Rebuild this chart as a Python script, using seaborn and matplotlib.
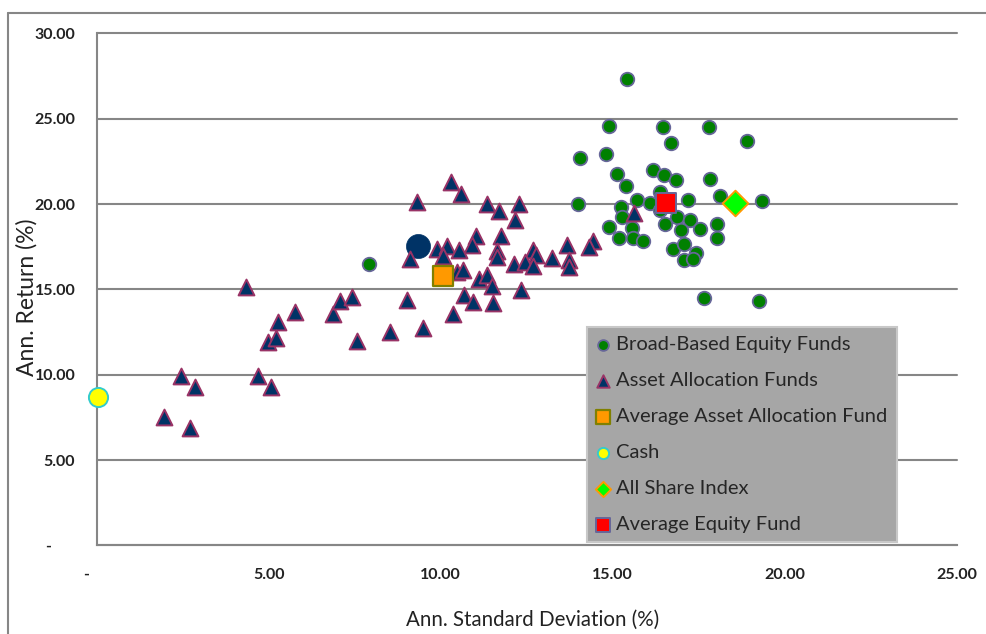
import matplotlib
matplotlib.use('Agg')
import matplotlib.pyplot as plt
from matplotlib.lines import Line2D
import seaborn as sns

# Broad-Based Equity Funds (std dev %, return %)
equity_sd = [15.42, 14.89, 16.47, 17.80, 16.68, 18.89, 14.05, 14.80, 15.11, 16.16,
             16.49, 16.84, 17.82, 15.38, 18.11, 14.00, 15.71, 16.08, 16.37, 17.19,
             19.34, 15.24, 15.26, 16.37, 16.87, 17.24, 14.90, 15.55, 16.52, 18.02,
             16.97, 17.53, 15.19, 15.58, 15.89, 18.04, 16.76, 17.07, 17.42, 17.07,
             17.32, 17.65, 19.26, 7.93]
equity_ret = [27.35, 24.56, 24.52, 24.52, 23.61, 23.68, 22.73, 22.96, 21.75, 21.98,
              21.73, 21.40, 21.50, 21.05, 20.46, 19.98, 20.27, 20.07, 20.71, 20.27,
              20.19, 19.84, 19.22, 19.64, 19.22, 19.06, 18.67, 18.63, 18.82, 18.86,
              18.51, 18.55, 17.99, 18.04, 17.82, 18.04, 17.40, 17.65, 17.14, 16.72,
              16.76, 14.53, 14.33, 16.52]

# Asset Allocation Funds
alloc_sd = [4.34, 1.96, 2.72, 2.45, 2.86, 4.70, 5.06, 5.28, 5.78, 4.97,
            5.22, 6.86, 7.07, 7.41, 7.57, 10.29, 10.58, 9.32, 11.34, 11.70,
            12.28, 12.16, 11.03, 11.74, 10.92, 9.90, 10.19, 10.54, 10.08, 9.11,
            11.64, 11.63, 13.66, 14.43, 14.30, 12.69, 12.77, 13.23, 12.13, 12.45,
            12.69, 13.74, 13.74, 10.46, 10.66, 11.12, 11.34, 11.48, 12.32, 10.68,
            10.93, 11.53, 9.01, 10.37, 9.49, 8.53, 15.62]
alloc_ret = [15.12, 7.54, 6.86, 9.92, 9.26, 9.92, 9.26, 13.10, 13.67, 11.93,
             12.13, 13.54, 14.33, 14.57, 11.99, 21.30, 20.62, 20.13, 19.98, 19.60,
             19.98, 19.10, 18.16, 18.12, 17.60, 17.40, 17.54, 17.34, 16.97, 16.76,
             17.26, 16.91, 17.59, 17.85, 17.46, 17.30, 17.01, 16.82, 16.52, 16.62,
             16.36, 16.72, 16.29, 16.03, 16.13, 15.60, 15.84, 15.19, 14.96, 14.67,
             14.27, 14.22, 14.41, 13.54, 12.72, 12.52, 19.48]

avg_alloc = (10.06, 15.80)
cash = (0.05, 8.71)
all_share = (18.55, 20.07)
avg_equity = (16.55, 20.09)
unlabelled = (9.35, 17.55)

x_ticks = [0, 5, 10, 15, 20, 25]
x_ticklabels = ['-     ', '5.00', '10.00', '15.00', '20.00', '25.00']
y_ticks = [0, 5, 10, 15, 20, 25, 30]
y_ticklabels = ['-      ', '5.00', '10.00', '15.00', '20.00', '25.00', '30.00']

sns.set_style('white')
plt.rcParams['font.family'] = ['Lato', 'DejaVu Sans']

grey = '#868686'

fig = plt.figure(figsize=(9.86, 6.34), dpi=100)
ax = fig.add_axes([0.0979, 0.1396, 0.8727, 0.8076])

# outer chart border (left and top edges visible in the crop)
fig.add_artist(Line2D([8.3 / 986, 8.3 / 986], [0, 1 - 12.7 / 634], color=grey, lw=1.5,
                      transform=fig.transFigure))
fig.add_artist(Line2D([8.3 / 986, 1], [1 - 12.7 / 634, 1 - 12.7 / 634], color=grey, lw=1.5,
                      transform=fig.transFigure))

sns.scatterplot(x=[unlabelled[0]], y=[unlabelled[1]], ax=ax, marker='o', s=300,
                color='#003366', edgecolor='#003366', linewidth=0.5, label='_nolegend_', zorder=3)
sns.scatterplot(x=equity_sd, y=equity_ret, ax=ax, marker='o', s=95, color='#008000',
                edgecolor='#666699', linewidth=1.3, label='Broad-Based Equity Funds', zorder=4)
sns.scatterplot(x=alloc_sd, y=alloc_ret, ax=ax, marker='^', s=130, color='#003366',
                edgecolor='#993366', linewidth=1.4, label='Asset Allocation Funds', zorder=5)
sns.scatterplot(x=[avg_alloc[0]], y=[avg_alloc[1]], ax=ax, marker='s', s=190, color='#FF9900',
                edgecolor='#808000', linewidth=1.6, label='Average Asset Allocation Fund', zorder=6)
sns.scatterplot(x=[cash[0]], y=[cash[1]], ax=ax, marker='o', s=190, color='#FFFF00',
                edgecolor='#33CCCC', linewidth=1.4, label='Cash', zorder=6, clip_on=False)
sns.scatterplot(x=[all_share[0]], y=[all_share[1]], ax=ax, marker='D', s=170, color='#00FF00',
                edgecolor='#FF9900', linewidth=1.4, label='All Share Index', zorder=6)
sns.scatterplot(x=[avg_equity[0]], y=[avg_equity[1]], ax=ax, marker='s', s=190, color='#FF0000',
                edgecolor='#666699', linewidth=1.4, label='Average Equity Fund', zorder=7)

ax.set_xlim(0, 25)
ax.set_ylim(0, 30)
ax.set_xticks(x_ticks)
ax.set_xticklabels(x_ticklabels)
ax.set_yticks(y_ticks)
ax.set_yticklabels(y_ticklabels)

for side in ['top', 'right']:
    ax.spines[side].set_visible(False)
for side in ['left', 'bottom']:
    ax.spines[side].set_color(grey)
    ax.spines[side].set_linewidth(1.5)

ax.yaxis.grid(True, color=grey, linewidth=1.5)
ax.xaxis.grid(False)
ax.set_axisbelow(True)
for gl in ax.yaxis.get_gridlines():
    gl.set_clip_on(False)

ax.tick_params(axis='both', direction='out', length=4.3, width=1.5, color=grey,
               labelsize=11.5, labelcolor='#222222')
ax.tick_params(axis='x', pad=12)
ax.tick_params(axis='y', pad=11)
for lbl in ax.get_xticklabels() + ax.get_yticklabels():
    lbl.set_fontweight('bold')

ax.set_xlabel('Ann. Standard Deviation (%)', fontsize=14.8, color='#222222')
ax.set_ylabel('Ann. Return (%)', fontsize=16.5, color='#222222')
ax.xaxis.set_label_coords(0.507, -0.126)
ax.yaxis.set_label_coords(-0.068, 0.485)

leg = ax.legend(loc='upper left', bbox_to_anchor=(587 / 986, 1 - 327 / 634),
                bbox_transform=fig.transFigure, frameon=True, fancybox=False,
                facecolor='#A6A6A6', edgecolor='#C8C8C8', framealpha=1,
                fontsize=14.5, labelspacing=0.94, handlelength=0.7,
                handletextpad=0.3, borderpad=0.45, borderaxespad=0)
leg.get_frame().set_linewidth(1.5)
leg.set_zorder(10)
for h, sz in zip(leg.legend_handles, [60, 80, 100, 65, 60, 100]):
    h.set_sizes([sz])

fig.savefig('out.png', dpi=100)
